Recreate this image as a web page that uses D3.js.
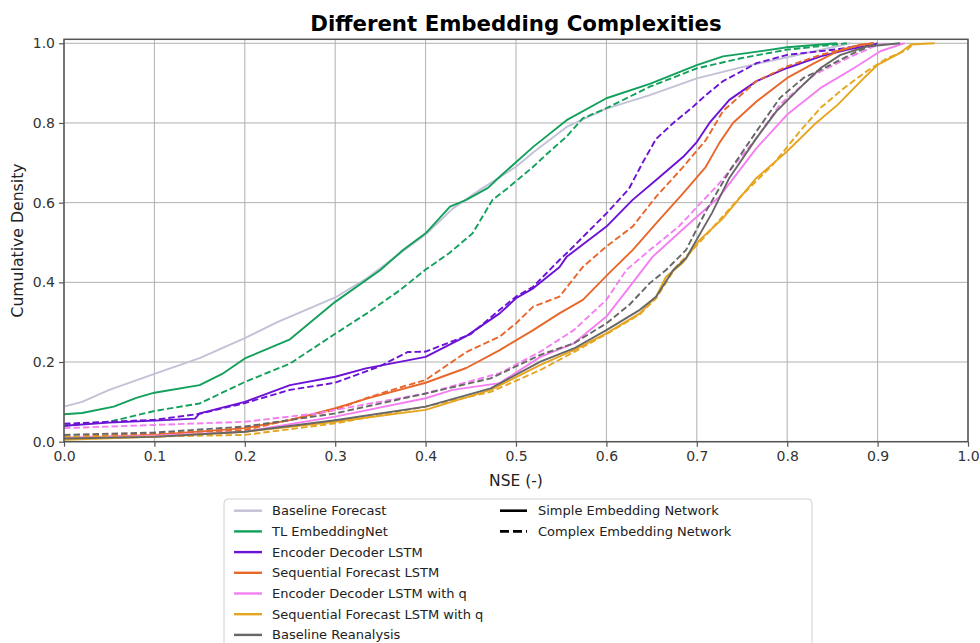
<!DOCTYPE html>
<html>
<head>
<meta charset="utf-8">
<script src="https://cdn.jsdelivr.net/npm/d3@7"></script>
<style>
  body { margin: 0; background: #fff; }
  text { font-family: "DejaVu Sans", sans-serif; }
</style>
</head>
<body>
<script>
// ECDF curves, [NSE, cumulative density]
var baselineForecast = [[0,0.088],[0.02,0.1],[0.05,0.13],[0.1,0.17],[0.15,0.21],[0.2,0.26],[0.236,0.3],[0.3,0.362],[0.335,0.41],[0.37,0.47],[0.4,0.52],[0.43,0.585],[0.46,0.632],[0.5,0.69],[0.52,0.728],[0.556,0.79],[0.6,0.836],[0.648,0.87],[0.7,0.912],[0.75,0.94],[0.8,0.965],[0.85,0.99],[0.87,1.0]];
var tlSimple = [[0,0.069],[0.02,0.072],[0.055,0.088],[0.08,0.11],[0.1,0.123],[0.15,0.142],[0.175,0.17],[0.2,0.209],[0.25,0.257],[0.3,0.351],[0.35,0.431],[0.375,0.481],[0.4,0.523],[0.427,0.59],[0.445,0.607],[0.469,0.637],[0.482,0.665],[0.519,0.74],[0.556,0.807],[0.6,0.862],[0.648,0.898],[0.7,0.945],[0.729,0.967],[0.773,0.981],[0.8,0.99],[0.855,1.0]];
var tlComplex = [[0,0.04],[0.05,0.05],[0.1,0.077],[0.15,0.096],[0.2,0.15],[0.25,0.196],[0.298,0.268],[0.335,0.322],[0.372,0.381],[0.4,0.432],[0.426,0.473],[0.452,0.523],[0.474,0.607],[0.49,0.635],[0.519,0.69],[0.535,0.724],[0.556,0.766],[0.574,0.812],[0.6,0.837],[0.648,0.891],[0.7,0.937],[0.75,0.963],[0.8,0.984],[0.866,1.0]];
var edSimple = [[0,0.04],[0.05,0.048],[0.1,0.053],[0.145,0.058],[0.15,0.071],[0.2,0.1],[0.25,0.142],[0.3,0.163],[0.334,0.184],[0.4,0.213],[0.445,0.265],[0.482,0.322],[0.5,0.36],[0.519,0.385],[0.548,0.438],[0.556,0.464],[0.6,0.54],[0.629,0.607],[0.655,0.657],[0.685,0.715],[0.7,0.752],[0.714,0.8],[0.736,0.858],[0.766,0.905],[0.8,0.938],[0.837,0.967],[0.867,0.984],[0.896,0.997],[0.9,1.0]];
var edComplex = [[0,0.045],[0.1,0.055],[0.15,0.07],[0.2,0.097],[0.25,0.13],[0.3,0.148],[0.35,0.19],[0.38,0.225],[0.4,0.226],[0.45,0.27],[0.482,0.331],[0.5,0.364],[0.519,0.389],[0.548,0.456],[0.556,0.473],[0.6,0.573],[0.625,0.635],[0.64,0.7],[0.655,0.76],[0.674,0.8],[0.696,0.841],[0.71,0.87],[0.729,0.905],[0.766,0.95],[0.8,0.971],[0.856,0.985],[0.889,0.998],[0.895,1.0]];
var sfSimple = [[0,0.008],[0.1,0.017],[0.2,0.034],[0.25,0.054],[0.3,0.084],[0.335,0.108],[0.4,0.148],[0.445,0.185],[0.482,0.23],[0.519,0.28],[0.548,0.322],[0.574,0.356],[0.603,0.423],[0.629,0.481],[0.655,0.548],[0.685,0.624],[0.71,0.69],[0.725,0.75],[0.74,0.8],[0.766,0.854],[0.8,0.913],[0.83,0.95],[0.856,0.98],[0.882,0.997],[0.896,1.0]];
var sfComplex = [[0,0.012],[0.1,0.02],[0.15,0.025],[0.2,0.029],[0.25,0.055],[0.3,0.08],[0.335,0.11],[0.37,0.135],[0.4,0.155],[0.445,0.225],[0.482,0.264],[0.5,0.297],[0.519,0.339],[0.548,0.364],[0.574,0.439],[0.6,0.49],[0.629,0.54],[0.655,0.615],[0.685,0.69],[0.71,0.757],[0.729,0.83],[0.766,0.905],[0.8,0.942],[0.837,0.971],[0.874,0.992],[0.896,1.0]];
var edqSimple = [[0,0.01],[0.1,0.015],[0.2,0.025],[0.3,0.063],[0.4,0.109],[0.43,0.13],[0.482,0.147],[0.527,0.213],[0.564,0.247],[0.6,0.314],[0.626,0.39],[0.651,0.464],[0.688,0.54],[0.725,0.615],[0.766,0.737],[0.8,0.821],[0.837,0.888],[0.874,0.938],[0.903,0.98],[0.925,0.997],[0.93,1.0]];
var edqComplex = [[0,0.034],[0.1,0.042],[0.2,0.05],[0.28,0.071],[0.3,0.08],[0.4,0.121],[0.482,0.172],[0.527,0.226],[0.564,0.28],[0.6,0.356],[0.622,0.431],[0.648,0.481],[0.68,0.54],[0.725,0.649],[0.766,0.762],[0.792,0.846],[0.83,0.921],[0.867,0.963],[0.896,0.992],[0.91,1.0]];
var sfqSimple = [[0,0.005],[0.1,0.012],[0.2,0.025],[0.3,0.05],[0.4,0.08],[0.472,0.13],[0.527,0.193],[0.564,0.23],[0.6,0.272],[0.637,0.322],[0.655,0.364],[0.666,0.414],[0.684,0.448],[0.703,0.506],[0.729,0.561],[0.766,0.662],[0.8,0.729],[0.83,0.796],[0.856,0.846],[0.885,0.913],[0.9,0.946],[0.925,0.976],[0.937,0.997],[0.963,1.0]];
var sfqComplex = [[0,0.012],[0.1,0.013],[0.2,0.017],[0.3,0.046],[0.4,0.088],[0.472,0.125],[0.527,0.18],[0.564,0.225],[0.6,0.27],[0.637,0.32],[0.655,0.36],[0.677,0.439],[0.703,0.5],[0.725,0.556],[0.747,0.612],[0.784,0.695],[0.814,0.779],[0.837,0.838],[0.863,0.888],[0.888,0.93],[0.911,0.963],[0.933,0.984],[0.94,1.0]];
var brSimple = [[0,0.008],[0.1,0.012],[0.2,0.025],[0.3,0.054],[0.4,0.088],[0.472,0.134],[0.527,0.201],[0.564,0.234],[0.6,0.28],[0.637,0.331],[0.655,0.364],[0.674,0.431],[0.688,0.46],[0.717,0.575],[0.736,0.662],[0.766,0.762],[0.788,0.829],[0.814,0.888],[0.837,0.938],[0.859,0.971],[0.888,0.992],[0.925,1.0]];
var brComplex = [[0,0.017],[0.1,0.023],[0.2,0.038],[0.3,0.071],[0.4,0.121],[0.472,0.159],[0.527,0.218],[0.564,0.247],[0.6,0.297],[0.626,0.345],[0.648,0.398],[0.666,0.431],[0.688,0.481],[0.71,0.578],[0.736,0.679],[0.766,0.779],[0.792,0.863],[0.818,0.913],[0.848,0.946],[0.874,0.976],[0.896,0.997],[0.9,1.0]];

var models = ["Baseline Forecast", "TL EmbeddingNet", "Encoder Decoder LSTM", "Sequential Forecast LSTM",
              "Encoder Decoder LSTM with q", "Sequential Forecast LSTM with q", "Baseline Reanalysis"];
var colors = ["#c3c1d6", "#13a05c", "#6c12d6", "#e8672b", "#f47ef2", "#e6a51e", "#676767"];
var styles = ["Simple Embedding Network", "Complex Embedding Network"];
var xTicks = [0, 0.1, 0.2, 0.3, 0.4, 0.5, 0.6, 0.7, 0.8, 0.9, 1.0];
var yTicks = [0, 0.2, 0.4, 0.6, 0.8, 1.0];

var series = [
    {m: 0, dash: false, v: baselineForecast},
    {m: 1, dash: false, v: tlSimple}, {m: 1, dash: true, v: tlComplex},
    {m: 2, dash: false, v: edSimple}, {m: 2, dash: true, v: edComplex},
    {m: 3, dash: false, v: sfSimple}, {m: 3, dash: true, v: sfComplex},
    {m: 4, dash: false, v: edqSimple}, {m: 4, dash: true, v: edqComplex},
    {m: 5, dash: false, v: sfqSimple}, {m: 5, dash: true, v: sfqComplex},
    {m: 6, dash: false, v: brSimple}, {m: 6, dash: true, v: brComplex}
];

var W = 980, H = 643;
var margin = {top: 39.3, right: 12, bottom: 201.3, left: 64};
var width = W - margin.left - margin.right,
    height = H - margin.top - margin.bottom;

var svg = d3.select("body").append("svg")
    .attr("width", W)
    .attr("height", H);

var x = d3.scaleLinear().domain([0, 1]).range([margin.left, margin.left + width]);
var y = d3.scaleLinear().domain([0, 1.01]).range([margin.top + height, margin.top]);

// grid
svg.append("g").selectAll("line").data(xTicks).enter().append("line")
    .attr("x1", function (d) { return x(d); }).attr("x2", function (d) { return x(d); })
    .attr("y1", margin.top).attr("y2", margin.top + height)
    .attr("stroke", "#b0b0b0").attr("stroke-width", 1);
svg.append("g").selectAll("line").data(yTicks).enter().append("line")
    .attr("x1", margin.left).attr("x2", margin.left + width)
    .attr("y1", function (d) { return y(d); }).attr("y2", function (d) { return y(d); })
    .attr("stroke", "#b0b0b0").attr("stroke-width", 1);

svg.append("clipPath").attr("id", "clip").append("rect")
    .attr("x", margin.left).attr("y", margin.top).attr("width", width).attr("height", height);

var line = d3.line()
    .x(function (d) { return x(d[0]); })
    .y(function (d) { return y(d[1]); });

svg.append("g").attr("clip-path", "url(#clip)")
    .selectAll("path").data(series).enter().append("path")
    .attr("d", function (d) { return line(d.v); })
    .attr("fill", "none")
    .attr("stroke", function (d) { return colors[d.m]; })
    .attr("stroke-width", 1.9)
    .attr("stroke-linejoin", "round")
    .attr("stroke-dasharray", function (d) { return d.dash ? "6.5,3" : null; });

// axes
var xAxis = svg.append("g")
    .attr("transform", "translate(0," + (margin.top + height) + ")")
    .call(d3.axisBottom(x).tickValues(xTicks).tickFormat(d3.format(".1f")).tickSize(5).tickPadding(4));
var yAxis = svg.append("g")
    .attr("transform", "translate(" + margin.left + ",0)")
    .call(d3.axisLeft(y).tickValues(yTicks).tickFormat(d3.format(".1f")).tickSize(5).tickPadding(4));
[xAxis, yAxis].forEach(function (a) {
    a.select(".domain").remove();
    a.selectAll(".tick line").attr("stroke", "#555").attr("stroke-width", 1.2);
    a.selectAll(".tick text").attr("font-size", 14).attr("fill", "#333")
        .attr("font-family", "DejaVu Sans");
});

svg.append("rect")
    .attr("x", margin.left).attr("y", margin.top)
    .attr("width", width).attr("height", height)
    .attr("fill", "none").attr("stroke", "#555").attr("stroke-width", 1.5);

svg.append("text")
    .attr("x", margin.left + width / 2).attr("y", 31)
    .attr("text-anchor", "middle")
    .attr("font-size", 21.3).attr("font-weight", "bold").attr("fill", "#000")
    .text("Different Embedding Complexities");

svg.append("text")
    .attr("x", margin.left + width / 2).attr("y", 486)
    .attr("text-anchor", "middle")
    .attr("font-size", 15.5).attr("fill", "#222")
    .text("NSE (-)");

svg.append("text")
    .attr("transform", "translate(23," + (margin.top + height / 2) + ") rotate(-90)")
    .attr("text-anchor", "middle")
    .attr("font-size", 15.7).attr("fill", "#222")
    .text("Cumulative Density");

// legend
var lg = svg.append("g");
lg.append("rect")
    .attr("x", 224).attr("y", 499).attr("width", 588).attr("height", 160)
    .attr("rx", 4).attr("fill", "#fff").attr("stroke", "#d0d0d0").attr("stroke-width", 1);

var rowH = 20.7, row0 = 510.7;
var items = lg.selectAll("g.m").data(models).enter().append("g").attr("class", "m")
    .attr("transform", function (d, i) { return "translate(0," + (row0 + i * rowH) + ")"; });
items.append("line").attr("x1", 234).attr("x2", 262)
    .attr("stroke", function (d, i) { return colors[i]; }).attr("stroke-width", 2.4);
items.append("text").attr("x", 272).attr("dy", "0.35em")
    .attr("font-size", 13).attr("fill", "#222").text(function (d) { return d; });

var st = lg.selectAll("g.s").data(styles).enter().append("g").attr("class", "s")
    .attr("transform", function (d, i) { return "translate(0," + (row0 + i * rowH) + ")"; });
st.append("line").attr("x1", 500).attr("x2", 527)
    .attr("stroke", "#000").attr("stroke-width", 2.6)
    .attr("stroke-dasharray", function (d, i) { return i ? "9,4" : null; });
st.append("text").attr("x", 538).attr("dy", "0.35em")
    .attr("font-size", 13).attr("fill", "#222").text(function (d) { return d; });
</script>
</body>
</html>
